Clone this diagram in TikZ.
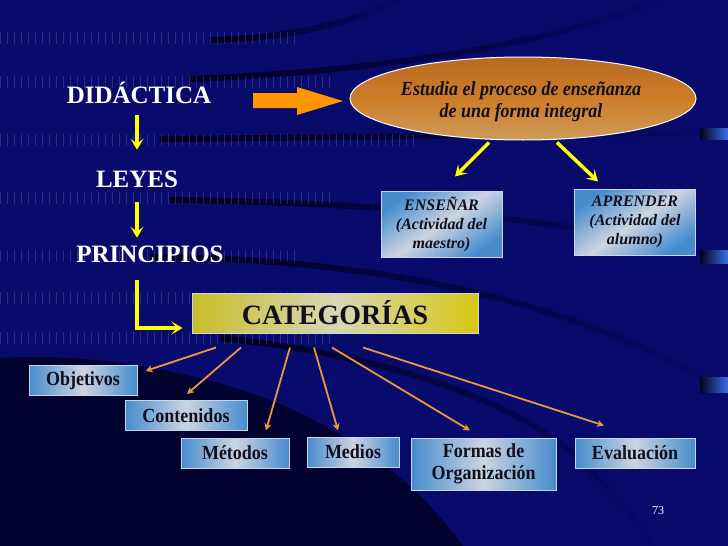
\documentclass[tikz,border=0pt]{standalone}
\usepackage{fontspec}
\setmainfont{Liberation Serif}
\newfontfamily\cond[FakeStretch=0.9]{Liberation Serif}
\usetikzlibrary{arrows.meta,shapes.geometric,fadings}
\definecolor{navy}{RGB}{8,10,108}
\definecolor{bgdark}{RGB}{2,2,48}
\definecolor{band}{RGB}{0,0,30}
\definecolor{hilite}{RGB}{60,110,230}
\definecolor{boxblue}{RGB}{70,140,205}
\definecolor{boxlight}{RGB}{205,212,225}
\definecolor{boxedge}{RGB}{200,215,232}
\definecolor{ink}{RGB}{15,15,30}
\definecolor{yel}{RGB}{255,255,0}
\definecolor{orng}{RGB}{255,150,0}
\definecolor{thinor}{RGB}{235,150,60}
\definecolor{elltop}{RGB}{185,105,35}
\definecolor{ellmid}{RGB}{205,125,40}
\definecolor{ellbot}{RGB}{205,155,90}
\definecolor{catl}{RGB}{200,190,40}
\definecolor{catm}{RGB}{215,215,180}
\definecolor{catr}{RGB}{215,200,20}
\tikzset{
  ttl/.style={text=white, font=\fontsize{25}{30}\selectfont\bfseries, inner sep=0pt},
  bbox/.style={draw=boxedge, line width=1pt, left color=boxblue, right color=boxblue, middle color=boxlight,
    minimum height=30pt, inner sep=0pt, align=center, text=ink,
    font=\cond\bfseries\fontsize{20}{22}\selectfont},
  sbox/.style={draw=boxedge, line width=1pt, left color=boxblue, right color=boxblue, middle color=boxlight,
    shading angle=35, minimum width=121pt, minimum height=66pt, inner sep=0pt, align=center, text=ink,
    font=\fontsize{16}{19}\selectfont\bfseries\itshape},
  ell/.style={ellipse, draw=white, line width=1pt, top color=elltop, bottom color=ellbot, middle color=ellmid,
    minimum width=346pt, minimum height=83pt, inner sep=0pt},
  elltext/.style={inner sep=0pt, align=center, text=ink,
    font=\cond\bfseries\itshape\fontsize{20}{22}\selectfont},
  catbox/.style={draw=boxedge, line width=1pt, left color=catl, right color=catr, middle color=catm,
    minimum width=286pt, minimum height=40pt, inner sep=0pt, text=ink,
    font=\fontsize{28}{30}\selectfont\bfseries},
  yarr/.style={draw=yel, line width=3.5pt, -{Stealth[length=11pt,width=13pt,inset=5pt]}},
  oarr/.style={draw=thinor, line width=1.8pt, -{Stealth[length=7pt,width=7pt,inset=2pt]}},
  bandline/.style={draw=band, line width=6pt, path fading=east},
  tick/.style={draw=white, opacity=0.14, line width=12pt, dash pattern=on 1pt off 6pt},
  hl/.style={left color=band, right color=hilite},
}
\begin{document}
\begin{tikzpicture}[x=1pt,y=-1pt]
\useasboundingbox (0,0) rectangle (728,546);
% background
\fill[navy] (0,0) rectangle (728,546);
\fill[bgdark] (0,358) .. controls (100,352) and (220,375) .. (300,413) .. controls (380,452) and (430,500) .. (463,546) -- (0,546) -- cycle;
\draw[bandline] (210,40) .. controls (300,38) and (360,20) .. (410,-6);
\draw[bandline] (190,79) .. controls (370,72) and (560,45) .. (672,-6);
\draw[bandline] (160,139) .. controls (400,137) and (600,133) .. (730,133);
\draw[bandline] (170,200) .. controls (420,203) and (600,225) .. (730,258);
\draw[bandline] (150,257) .. controls (330,258) and (480,285) .. (600,330) .. controls (650,350) and (700,375) .. (730,395);
\draw[bandline] (220,338) .. controls (430,360) and (540,420) .. (580,460) .. controls (610,490) and (640,520) .. (655,550);
\fill[hl] (700,128) rectangle (728,139);
\fill[hl] (700,250) rectangle (728,263);
\fill[hl] (700,377) rectangle (728,392);
\foreach \yy/\xb in {38/300, 82/330, 140/420, 198/330, 256/300, 298/330, 338/330} {
  \draw[tick] (0,\yy) -- (\xb,\yy);
}
% left column
\node[ttl, anchor=base] (did) at (139,103) {DIDÁCTICA};
\node[ttl, anchor=base] (ley) at (137,187) {LEYES};
\node[ttl, anchor=base] (pri) at (150,262) {PRINCIPIOS};
% ellipse and boxes
\node[ell] (ell) at (523,98.5) {};
\node[elltext] (elt) at (521,102) {Estudia el proceso de enseñanza\\de una forma integral};
\node[sbox] (ens) at (441.5,224) {ENSEÑAR\\(Actividad del\\maestro)};
\node[sbox] (apr) at (635,222) {APRENDER\\(Actividad del\\alumno)};
\node[catbox] (cat) at (335,313) {CATEGORÍAS};
\node[bbox, minimum width=108pt] (obj) at (83,380.5) {Objetivos};
\node[bbox, minimum width=122pt] (con) at (186,415.5) {Contenidos};
\node[bbox, minimum width=108pt] (met) at (235,453) {Métodos};
\node[bbox, minimum width=92pt] (med) at (353,452) {Medios};
\node[bbox, minimum width=145pt, minimum height=52pt] (for) at (483.5,464) {Formas de\\Organización};
\node[bbox, minimum width=120pt] (eva) at (635,453) {Evaluación};
\node[text=white, font=\fontsize{12}{14}\selectfont, inner sep=0pt] (pg) at (658,511) {73};
% big orange arrow
\fill[orng] (253,93) -- (297,93) -- (297,87) -- (343,101) -- (297,115) -- (297,108) -- (253,108) -- cycle;
% yellow arrows
\draw[yarr] ([xshift=-2pt,yshift=-12pt]did.south) -- ([yshift=20.5pt]ley.north);
\draw[yarr] ([yshift=-15pt]ley.south) -- ([xshift=-13pt,yshift=7.5pt]pri.north);
\draw[yarr] ([xshift=-13pt,yshift=-18pt]pri.south) |- ([xshift=-9pt,yshift=-15pt]cat.west);
\draw[yarr] ([xshift=-34pt,yshift=-2pt]ell.south) -- ([xshift=13.5pt,yshift=14pt]ens.north);
\draw[yarr] ([xshift=34pt,yshift=-2pt]ell.south) -- ([xshift=-37pt,yshift=7pt]apr.north);
% orange thin arrows
\draw[oarr] ([xshift=-119pt,yshift=-14pt]cat.south) -- ([xshift=8pt,yshift=-6pt]obj.north east);
\draw[oarr] ([xshift=-94pt,yshift=-14pt]cat.south) -- ([xshift=1pt,yshift=6pt]con.north);
\draw[oarr] ([xshift=-45pt,yshift=-14pt]cat.south) -- ([xshift=31pt,yshift=7pt]met.north);
\draw[oarr] ([xshift=-21pt,yshift=-14pt]cat.south) -- ([xshift=-15pt,yshift=6pt]med.north);
\draw[oarr] ([xshift=-3pt,yshift=-14pt]cat.south) -- ([xshift=-13.5pt,yshift=7pt]for.north);
\draw[oarr] ([xshift=28pt,yshift=-14pt]cat.south) -- ([xshift=-31pt,yshift=12pt]eva.north);
\end{tikzpicture}
\end{document}
